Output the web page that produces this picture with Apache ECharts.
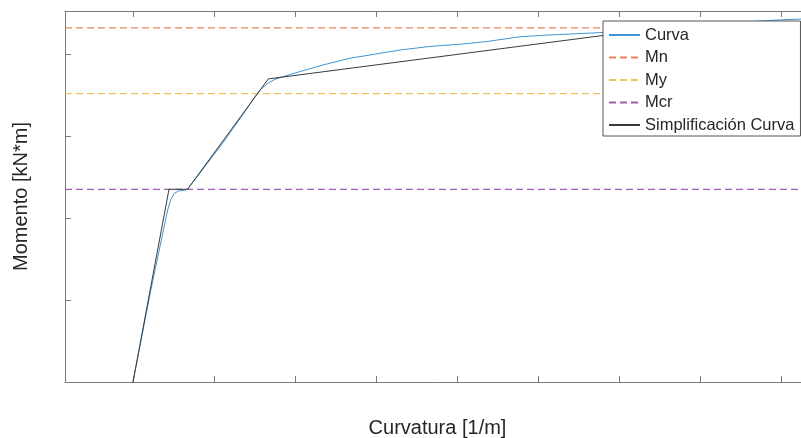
<!DOCTYPE html>
<html>
<head>
<meta charset="utf-8">
<script src="https://cdn.jsdelivr.net/npm/echarts@6/dist/echarts.min.js"></script>
<style>
  html, body { margin: 0; padding: 0; background: #fff; }
  #chart { width: 801px; height: 438px; }
</style>
</head>
<body>
<div id="chart"></div>
<script>
// Moment-curvature curve [1/m, kN*m]
const curvaX = [0, 0.00220, 0.00428, 0.00465, 0.00510, 0.00572, 0.00617, 0.00673, 0.01086, 0.01383,
  0.01481, 0.01568, 0.01667, 0.01753, 0.01840, 0.02062, 0.02346, 0.02679, 0.03173, 0.03296,
  0.03667, 0.04074, 0.04370, 0.04778, 0.05148, 0.05765, 0.07000, 0.07877, 0.08235, 0.08420];
const curvaY = [0, 56.1, 104.9, 111.0, 115.1, 116.6, 116.7, 117.5, 144.2, 164.9,
  172.3, 178.0, 182.3, 184.5, 186.0, 189.3, 193.3, 197.4, 201.4, 202.4,
  204.6, 206.1, 207.6, 210.5, 211.6, 213.0, 217.7, 220.5, 221.3, 221.6];

// Simplified (multi-linear) curve
const simpX = [0, 0.00444, 0.00673, 0.01670, 0.06150];
const simpY = [0, 117.5, 117.5, 184.8, 213.5];

// Characteristic moments
const Mn = 215.9;
const My = 175.8;
const Mcr = 117.5;

// Axis ranges and tick positions (ticks carry no labels)
const xMin = -0.008395, xMax = 0.08358;
const yMin = 0, yMax = 226.2;
const xTicks = [0, 0.01, 0.02, 0.03, 0.04, 0.05, 0.06, 0.07, 0.08];
const yTicks = [0, 50, 100, 150, 200];

const pairs = (xs, ys) => xs.map((x, i) => [x, ys[i]]);
const hline = (v) => [[xMin, v], [xMax, v]];

const FONT = '"Liberation Sans", Arial, Helvetica, sans-serif';
const TXT = '#262626';
const AX = '#7a7a7a';

const chart = echarts.init(document.getElementById('chart'), null, { renderer: 'canvas' });

const baseX = {
  type: 'value', min: xMin, max: xMax,
  axisLine: { show: true, onZero: false, lineStyle: { color: AX, width: 1 } },
  axisTick: { show: true, inside: true, length: 6, customValues: xTicks, lineStyle: { color: AX, width: 1 } },
  axisLabel: { show: false },
  splitLine: { show: false }
};

chart.setOption({
  animation: false,
  backgroundColor: '#fff',
  textStyle: { fontFamily: FONT },
  // the plot box runs past the right edge of the canvas
  grid: { left: 65, width: 745, top: 11, height: 371, containLabel: false, outerBoundsMode: 'none' },
  xAxis: [
    Object.assign({}, baseX, {
      position: 'bottom',
      name: 'Curvatura [1/m]', nameLocation: 'middle', nameGap: 36,
      nameTextStyle: { fontFamily: FONT, fontSize: 20, color: TXT }
    }),
    Object.assign({}, baseX, { position: 'top' })
  ],
  yAxis: [{
    type: 'value', min: yMin, max: yMax, position: 'left',
    name: 'Momento [kN*m]', nameLocation: 'middle', nameGap: 34, nameRotate: 90,
    nameTextStyle: { fontFamily: FONT, fontSize: 20, color: TXT },
    axisLine: { show: true, onZero: false, lineStyle: { color: AX, width: 1 } },
    axisTick: { show: true, inside: true, length: 6, customValues: yTicks, lineStyle: { color: AX, width: 1 } },
    axisLabel: { show: false },
    splitLine: { show: false }
  }],
  legend: {
    orient: 'vertical',
    left: 603, top: 21,
    padding: [5, 6, 2, 5],
    itemWidth: 31, itemHeight: 12, itemGap: 4.5,
    backgroundColor: '#fff',
    borderColor: '#555', borderWidth: 1, borderRadius: 0,
    z: 20,
    itemStyle: { opacity: 0 },
    textStyle: { fontFamily: FONT, fontSize: 16.5, color: TXT, lineHeight: 18 },
    data: ['Curva', 'Mn', 'My', 'Mcr', 'Simplificación Curva']
  },
  series: [
    { name: 'Curva', type: 'line', symbol: 'none', data: pairs(curvaX, curvaY),
      lineStyle: { color: '#3f95d6', width: 1 }, itemStyle: { color: '#3f95d6' }, z: 3 },
    { name: 'Mn', type: 'line', symbol: 'none', data: hline(Mn),
      lineStyle: { color: '#e8845a', width: 1.2, type: [7, 4] }, itemStyle: { color: '#e8845a' } },
    { name: 'My', type: 'line', symbol: 'none', data: hline(My),
      lineStyle: { color: '#efc25c', width: 1.2, type: [7, 4] }, itemStyle: { color: '#efc25c' } },
    { name: 'Mcr', type: 'line', symbol: 'none', data: hline(Mcr),
      lineStyle: { color: '#9d5db3', width: 1.2, type: [7, 4] }, itemStyle: { color: '#9d5db3' } },
    { name: 'Simplificación Curva', type: 'line', symbol: 'none', data: pairs(simpX, simpY),
      lineStyle: { color: '#3a3a3a', width: 1 }, itemStyle: { color: '#3a3a3a' }, z: 4 }
  ]
});
</script>
</body>
</html>
